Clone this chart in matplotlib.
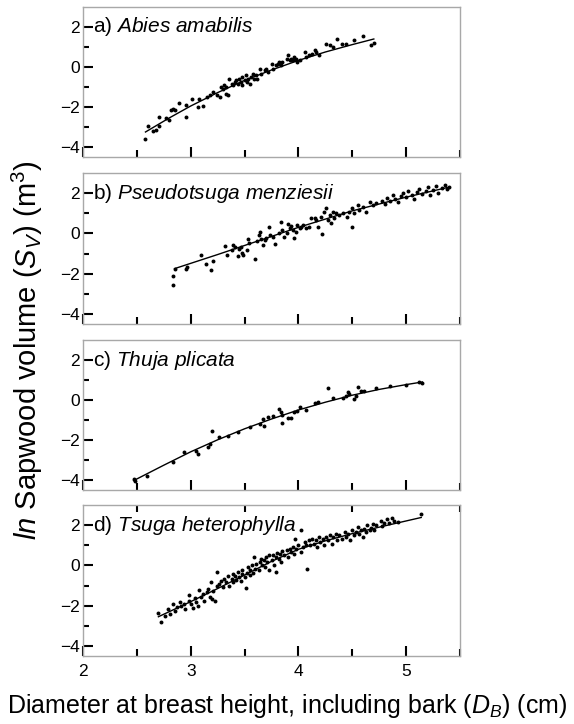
"""Sapwood volume vs. diameter at breast height for four conifer species."""

import matplotlib

matplotlib.use("Agg")
import matplotlib.pyplot as plt
from matplotlib.ticker import MultipleLocator, FixedLocator

plt.rcParams["font.family"] = ["Liberation Sans", "DejaVu Sans"]
plt.rcParams["mathtext.fontset"] = "custom"
plt.rcParams["mathtext.rm"] = "Liberation Sans"
plt.rcParams["mathtext.it"] = "Liberation Sans:italic"

# ---- a) Abies amabilis ---------------------------------------------------
abies_x = [2.58, 2.60, 2.65, 2.68, 2.71, 2.71, 2.77, 2.80, 2.82, 2.84, 2.85, 2.89,
           2.96, 2.96, 3.01, 3.07, 3.11, 3.08, 3.15, 3.18, 3.21, 3.24, 3.27, 3.28,
           3.30, 3.31, 3.33, 3.33, 3.35, 3.36, 3.38, 3.39, 3.41, 3.42, 3.44, 3.45,
           3.47, 3.48, 3.48, 3.50, 3.51, 3.52, 3.53, 3.55, 3.56, 3.58, 3.59, 3.61,
           3.62, 3.64, 3.65, 3.69, 3.70, 3.72, 3.75, 3.76, 3.79, 3.81, 3.82, 3.84,
           3.85, 3.89, 3.90, 3.92, 3.93, 3.95, 3.96, 3.98, 3.99, 4.01, 4.06, 4.07,
           4.10, 4.13, 4.15, 4.16, 4.19, 4.26, 4.29, 4.32, 4.36, 4.40, 4.44, 4.52,
           4.60, 4.67, 4.70]
abies_y = [-3.58, -2.97, -3.22, -3.17, -2.97, -2.50, -2.55, -2.67, -2.17, -2.08, -2.17, -1.78,
           -2.50, -1.88, -1.58, -2.00, -1.95, -1.58, -1.50, -1.42, -1.25, -1.42, -1.50, -1.00,
           -1.12, -0.92, -1.00, -1.33, -1.42, -0.58, -0.83, -0.92, -0.75, -0.67, -0.83, -0.58,
           -0.75, -0.50, -0.88, -0.67, -0.42, -0.75, -0.58, -0.83, -0.50, -0.33, -0.58, -0.42,
           -0.58, -0.08, -0.33, -0.17, -0.08, -0.25, 0.17, -0.08, 0.08, 0.17, 0.25, 0.08,
           0.25, 0.42, 0.58, 0.33, 0.42, 0.33, 0.50, 0.42, 0.25, 0.33, 0.75, 0.50,
           0.58, 0.67, 0.83, 0.75, 0.58, 1.17, 1.08, 1.00, 1.42, 1.17, 1.17, 1.35,
           1.55, 1.10, 1.20]
abies_fit_x = [2.58, 2.80, 3.00, 3.25, 3.50, 3.75, 4.00, 4.25, 4.50, 4.70]
abies_fit_y = [-3.25, -2.55, -1.95, -1.28, -0.67, -0.15, 0.33, 0.75, 1.12, 1.40]

# ---- b) Pseudotsuga menziesii --------------------------------------------
pseudo_x = [2.84, 2.84, 2.85, 2.96, 2.97, 3.10, 3.14, 3.19, 3.21, 3.32, 3.34, 3.38,
            3.39, 3.41, 3.44, 3.45, 3.47, 3.48, 3.49, 3.52, 3.53, 3.54, 3.60, 3.62,
            3.63, 3.64, 3.65, 3.67, 3.69, 3.70, 3.73, 3.74, 3.76, 3.78, 3.82, 3.84,
            3.85, 3.87, 3.89, 3.90, 3.92, 3.93, 3.95, 3.96, 3.98, 3.99, 4.01, 4.02,
            4.04, 4.07, 4.10, 4.12, 4.15, 4.16, 4.18, 4.21, 4.22, 4.24, 4.26, 4.27,
            4.29, 4.30, 4.32, 4.33, 4.35, 4.38, 4.41, 4.45, 4.47, 4.50, 4.50, 4.52,
            4.55, 4.56, 4.60, 4.63, 4.66, 4.69, 4.72, 4.78, 4.80, 4.82, 4.85, 4.88,
            4.90, 4.92, 4.95, 4.97, 5.00, 5.02, 5.05, 5.07, 5.10, 5.12, 5.15, 5.18,
            5.20, 5.22, 5.25, 5.28, 5.30, 5.33, 5.36, 5.38, 5.40]
pseudo_y = [-2.12, -2.55, -1.75, -1.78, -1.67, -1.05, -1.50, -1.83, -1.38, -0.62, -1.05, -0.83,
            -0.58, -0.67, -1.12, -0.75, -0.67, -0.95, -1.05, -0.83, -0.28, -0.50, -1.28, -0.38,
            -0.08, 0.08, -0.28, -0.58, -0.33, -0.25, 0.33, -0.08, -0.17, -0.55, 0.00, 0.55,
            0.17, -0.17, 0.00, 0.45, 0.25, 0.38, 0.17, -0.25, 0.08, 0.42, 0.25, 0.33,
            0.42, 0.28, 0.33, 0.75, 0.78, 0.67, 0.33, 0.83, -0.05, 1.08, 1.25, 0.67,
            0.92, 0.50, 1.08, 0.75, 1.00, 0.92, 1.00, 0.83, 1.08, 0.33, 1.25, 1.00,
            1.42, 1.17, 1.33, 1.08, 1.58, 1.42, 1.50, 1.60, 1.45, 1.75, 1.60, 1.90,
            1.70, 1.55, 1.85, 2.00, 1.80, 2.10, 1.90, 1.70, 2.05, 2.20, 1.95, 2.10,
            2.30, 1.90, 2.15, 2.35, 2.00, 2.25, 2.40, 2.20, 2.30]
pseudo_fit_x = [2.85, 3.25, 3.50, 4.00, 4.50, 5.00, 5.40]
pseudo_fit_y = [-1.75, -1.05, -0.60, 0.30, 1.12, 1.80, 2.30]

# ---- c) Thuja plicata ----------------------------------------------------
thuja_x = [2.47, 2.48, 2.59, 2.84, 2.94, 3.05, 3.07, 3.16, 3.18, 3.20, 3.26, 3.35,
           3.44, 3.55, 3.64, 3.67, 3.68, 3.72, 3.76, 3.82, 3.84, 3.85, 3.85, 3.90,
           3.93, 3.96, 3.99, 4.01, 4.07, 4.15, 4.18, 4.27, 4.32, 4.41, 4.44, 4.46,
           4.47, 4.52, 4.53, 4.55, 4.58, 4.61, 4.72, 4.85, 5.00, 5.12, 5.15]
thuja_y = [-3.95, -4.03, -3.78, -3.08, -2.62, -2.53, -2.70, -2.37, -2.20, -1.53, -1.87, -1.78,
           -1.62, -1.37, -1.20, -0.95, -1.28, -0.87, -0.82, -0.45, -0.62, -1.15, -0.75, -0.92,
           -0.92, -0.58, -0.53, -0.37, -0.48, -0.15, -0.12, 0.58, 0.08, 0.08, 0.18, 0.38,
           0.30, 0.05, 0.22, 0.67, 0.47, 0.43, 0.58, 0.70, 0.75, 0.90, 0.85]
thuja_fit_x = [2.47, 2.75, 3.00, 3.25, 3.50, 3.75, 4.00, 4.25, 4.50, 4.75, 5.00, 5.15]
thuja_fit_y = [-4.03, -3.26, -2.59, -1.99, -1.44, -0.95, -0.50, -0.11, 0.24, 0.53, 0.77, 0.90]

# ---- d) Tsuga heterophylla -----------------------------------------------
tsuga_x = [2.70, 2.72, 2.76, 2.79, 2.81, 2.84, 2.85, 2.87, 2.90, 2.91, 2.94, 2.95,
           2.98, 2.98, 3.00, 3.02, 3.04, 3.05, 3.07, 3.08, 3.10, 3.11, 3.12, 3.15,
           3.16, 3.18, 3.19, 3.20, 3.21, 3.23, 3.24, 3.24, 3.26, 3.28, 3.30, 3.31,
           3.33, 3.35, 3.36, 3.38, 3.39, 3.39, 3.41, 3.42, 3.44, 3.45, 3.47, 3.48,
           3.48, 3.50, 3.51, 3.52, 3.53, 3.55, 3.55, 3.57, 3.58, 3.59, 3.60, 3.61,
           3.63, 3.64, 3.65, 3.66, 3.68, 3.69, 3.70, 3.71, 3.73, 3.73, 3.75, 3.76,
           3.77, 3.79, 3.79, 3.80, 3.82, 3.83, 3.84, 3.85, 3.87, 3.89, 3.90, 3.92,
           3.93, 3.95, 3.96, 3.97, 3.98, 4.00, 4.02, 4.02, 4.04, 4.06, 4.07, 4.08,
           4.10, 4.11, 4.13, 4.14, 4.16, 4.17, 4.19, 4.20, 4.23, 4.24, 4.26, 4.27,
           4.29, 4.31, 4.32, 4.35, 4.36, 4.38, 4.40, 4.43, 4.44, 4.46, 4.48, 4.50,
           4.52, 4.53, 4.55, 4.56, 4.58, 4.60, 4.61, 4.63, 4.64, 4.66, 4.67, 4.69,
           4.70, 4.72, 4.77, 4.78, 4.79, 4.82, 4.84, 4.87, 4.89, 4.92, 5.14]
tsuga_y = [-2.38, -2.83, -2.50, -2.17, -2.42, -1.92, -2.25, -2.08, -1.83, -2.00, -1.92, -2.17,
           -1.45, -1.75, -1.92, -2.12, -1.62, -1.83, -2.00, -1.22, -1.58, -1.42, -1.75, -1.33,
           -1.17, -1.55, -0.83, -1.67, -1.25, -1.78, -1.00, -0.33, -0.92, -0.75, -1.08, -0.67,
           -0.83, -0.55, -1.00, -0.67, -0.42, -0.83, -0.55, -0.72, -0.33, -0.58, -0.75, -0.42,
           -0.22, -0.58, -1.13, -0.38, -0.08, -0.50, -0.25, 0.00, -0.38, 0.42, -0.17, 0.08,
           -0.25, 0.17, 0.33, 0.00, 0.25, -0.08, 0.42, 0.17, 0.50, -0.25, 0.25, 0.50,
           0.00, 0.42, -0.33, 0.62, 0.33, 0.58, 0.17, 0.72, 0.50, 0.75, 0.42, 0.83,
           0.67, 0.92, 0.58, 1.33, 0.83, 1.00, 0.67, 1.75, 0.92, 1.17, 1.00, -0.17,
           1.25, 1.00, 1.33, 1.08, 1.25, 0.92, 1.42, 1.17, 1.33, 1.00, 1.42, 1.25,
           1.50, 1.08, 1.42, 1.58, 1.25, 1.50, 1.33, 1.67, 1.42, 1.58, 1.25, 1.75,
           1.50, 1.67, 1.92, 1.58, 1.75, 1.42, 1.83, 1.67, 2.00, 1.75, 1.88, 2.08,
           1.78, 2.00, 2.22, 1.97, 2.13, 2.30, 2.13, 2.33, 2.22, 2.17, 2.55]
tsuga_fit_x = [2.70, 3.00, 3.25, 3.50, 3.75, 4.00, 4.25, 4.50, 4.75, 5.14]
tsuga_fit_y = [-2.55, -1.80, -1.15, -0.48, 0.20, 0.80, 1.22, 1.58, 1.90, 2.38]

panels = [
    ("a)", "Abies amabilis", abies_x, abies_y, abies_fit_x, abies_fit_y),
    ("b)", "Pseudotsuga menziesii", pseudo_x, pseudo_y, pseudo_fit_x, pseudo_fit_y),
    ("c)", "Thuja plicata", thuja_x, thuja_y, thuja_fit_x, thuja_fit_y),
    ("d)", "Tsuga heterophylla", tsuga_x, tsuga_y, tsuga_fit_x, tsuga_fit_y),
]

W, H = 574, 724
fig = plt.figure(figsize=(W / 100, H / 100), dpi=100)

# axes boxes in pixels: (top, bottom)
boxes = [(7, 157), (173, 324), (340, 490), (505, 656)]
left, right = 83, 460
spine_col = "#a8a8a8"

for i, ((tag, name, xs, ys, fx, fy), (top, bot)) in enumerate(zip(panels, boxes)):
    ax = fig.add_axes([left / W, 1 - bot / H, (right - left) / W, (bot - top) / H])
    ax.scatter(xs, ys, s=8, color="black", linewidths=0, zorder=3)
    ax.plot(fx, fy, color="black", lw=1.0, zorder=2)
    ax.set_xlim(2, 5.5)
    ax.set_ylim(-4.5, 3)

    ax.xaxis.set_major_locator(FixedLocator([2, 3, 4, 5]))
    ax.xaxis.set_minor_locator(MultipleLocator(0.5))
    ax.yaxis.set_major_locator(FixedLocator([-4, -2, 0, 2]))
    ax.yaxis.set_minor_locator(FixedLocator([-3, -1, 1]))

    ax.tick_params(axis="both", which="both", direction="in", width=1.5, color="black",
                   labelsize=12.5)
    ax.tick_params(axis="x", which="major", length=7, pad=6)
    ax.tick_params(axis="x", which="minor", length=5)
    ax.tick_params(axis="y", which="major", length=7, pad=2)
    ax.tick_params(axis="y", which="minor", length=4)
    if i < 3:
        ax.tick_params(axis="x", labelbottom=False)
    else:
        ax.tick_params(axis="x", which="minor", top=True)

    for sp in ax.spines.values():
        sp.set_color(spine_col)
        sp.set_linewidth(1.0)

    label = tag + " $\\it{" + name.replace(" ", "\\ ") + "}$"
    ax.text(2.09, 2.0, label, fontsize=15, va="center", ha="left")

fig.text(27 / W, 1 - 350 / H, r"$\it{ln}$ Sapwood volume ($S_V$) (m$^3$)",
         rotation=90, ha="center", va="center", fontsize=21)
fig.text(287 / W, 1 - 706 / H, r"Diameter at breast height, including bark ($D_B$) (cm)",
         ha="center", va="center", fontsize=18)

fig.savefig("out.png", dpi=100)
